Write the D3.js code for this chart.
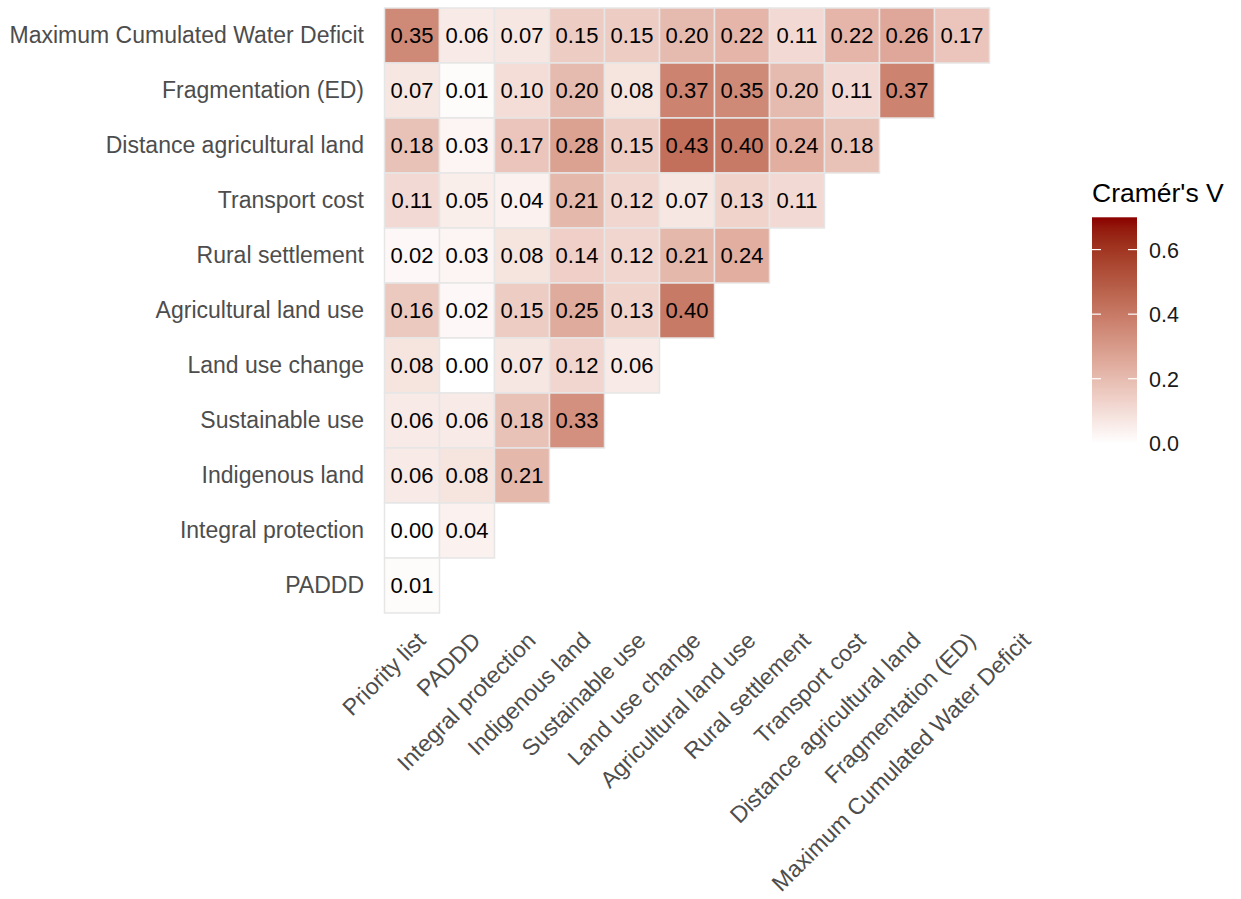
<!DOCTYPE html>
<html>
<head>
<meta charset="utf-8">
<script src="https://cdn.jsdelivr.net/npm/d3@7"></script>
<style>
  html, body { margin: 0; padding: 0; background: #fff; }
  svg { display: block; font-family: "Liberation Sans", Arial, sans-serif; }
</style>
</head>
<body>
<svg id="chart" width="1241" height="899"></svg>
<script>
// Column variables (x axis, left to right)
const xVars = [
  "Priority list", "PADDD", "Integral protection", "Indigenous land",
  "Sustainable use", "Land use change", "Agricultural land use",
  "Rural settlement", "Transport cost", "Distance agricultural land",
  "Fragmentation (ED)", "Maximum Cumulated Water Deficit"
];

// Row variables (y axis, top to bottom)
const yVars = [
  "Maximum Cumulated Water Deficit", "Fragmentation (ED)",
  "Distance agricultural land", "Transport cost", "Rural settlement",
  "Agricultural land use", "Land use change", "Sustainable use",
  "Indigenous land", "Integral protection", "PADDD"
];

// Cramér's V per row, starting from the first column
const vMCWD        = [0.35, 0.06, 0.07, 0.15, 0.15, 0.20, 0.22, 0.11, 0.22, 0.26, 0.17];
const vFragment    = [0.07, 0.01, 0.10, 0.20, 0.08, 0.37, 0.35, 0.20, 0.11, 0.37];
const vDistAgri    = [0.18, 0.03, 0.17, 0.28, 0.15, 0.43, 0.40, 0.24, 0.18];
const vTransport   = [0.11, 0.05, 0.04, 0.21, 0.12, 0.07, 0.13, 0.11];
const vRural       = [0.02, 0.03, 0.08, 0.14, 0.12, 0.21, 0.24];
const vAgriLandUse = [0.16, 0.02, 0.15, 0.25, 0.13, 0.40];
const vLandUseChg  = [0.08, 0.00, 0.07, 0.12, 0.06];
const vSustainable = [0.06, 0.06, 0.18, 0.33];
const vIndigenous  = [0.06, 0.08, 0.21];
const vIntegral    = [0.00, 0.04];
const vPADDD       = [0.01];

const rowValues = [vMCWD, vFragment, vDistAgri, vTransport, vRural,
  vAgriLandUse, vLandUseChg, vSustainable, vIndigenous, vIntegral, vPADDD];

const legendTicks = [0.0, 0.2, 0.4, 0.6];
const fillLimits = [0, 0.7];

// Long-format cells
const cells = [];
rowValues.forEach((vals, i) => {
  vals.forEach((v, j) => cells.push({ row: yVars[i], col: xVars[j], value: v }));
});

const svg = d3.select("#chart");

const panel = { left: 384.5, top: 8, cell: 55 };
const x = d3.scaleBand().domain(xVars)
  .range([panel.left, panel.left + panel.cell * xVars.length]).padding(0);
const y = d3.scaleBand().domain(yVars)
  .range([panel.top, panel.top + panel.cell * yVars.length]).padding(0);

const color = d3.scaleLinear().domain(fillLimits)
  .range(["#ffffff", "#8B0000"]).interpolate(d3.interpolateLab).clamp(true);

// Tiles
svg.append("g").selectAll("rect").data(cells).join("rect")
  .attr("x", d => x(d.col))
  .attr("y", d => y(d.row))
  .attr("width", x.bandwidth())
  .attr("height", y.bandwidth())
  .attr("fill", d => color(d.value))
  .attr("stroke", "#e6e6e6")
  .attr("stroke-width", 1.5);

// Value labels
svg.append("g").selectAll("text").data(cells).join("text")
  .attr("x", d => x(d.col) + x.bandwidth() / 2)
  .attr("y", d => y(d.row) + y.bandwidth() / 2)
  .attr("text-anchor", "middle")
  .attr("dominant-baseline", "central")
  .attr("font-size", 22)
  .attr("fill", "#000")
  .text(d => d3.format(".2f")(d.value));

// Y axis (labels only)
const yAxis = d3.axisLeft(y).tickSize(0).tickPadding(20.5);
const gy = svg.append("g").attr("transform", `translate(${panel.left},0)`).call(yAxis);
gy.select(".domain").remove();
gy.selectAll("text")
  .attr("font-size", 23)
  .attr("fill", "#4d4d4d")
  .attr("font-family", "'Liberation Sans', Arial, sans-serif");

// X axis (labels only, rotated 45°)
const xAxisY = panel.top + panel.cell * yVars.length;
const xAxis = d3.axisBottom(x).tickSize(0).tickPadding(0);
const gx = svg.append("g").attr("transform", `translate(0,${xAxisY})`).call(xAxis);
gx.select(".domain").remove();
gx.selectAll("text")
  .attr("font-size", 23)
  .attr("fill", "#4d4d4d")
  .attr("font-family", "'Liberation Sans', Arial, sans-serif")
  .attr("text-anchor", "end")
  .attr("dy", null)
  .attr("y", 0)
  .attr("transform", "translate(15,29) rotate(-45)");

// Colour bar legend
const legend = { x: 1092, top: 217.3, width: 45 };
const ly = d3.scaleLinear().domain(fillLimits).range([443.3, legend.top]);

const defs = svg.append("defs");
const grad = defs.append("linearGradient").attr("id", "vgrad")
  .attr("x1", 0).attr("y1", 1).attr("x2", 0).attr("y2", 0);
d3.range(0, 1.0001, 0.05).forEach(t => {
  grad.append("stop").attr("offset", t)
    .attr("stop-color", color(fillLimits[0] + t * (fillLimits[1] - fillLimits[0])));
});

const lg = svg.append("g");
lg.append("text")
  .attr("x", legend.x).attr("y", 202)
  .attr("font-size", 26.5).attr("fill", "#000")
  .text("Cramér's V");

lg.append("rect")
  .attr("x", legend.x).attr("y", ly(fillLimits[1]))
  .attr("width", legend.width).attr("height", ly(fillLimits[0]) - ly(fillLimits[1]))
  .attr("fill", "url(#vgrad)");

const tickLen = legend.width / 5;
lg.selectAll("line.tl").data(legendTicks).join("line")
  .attr("x1", legend.x).attr("x2", legend.x + tickLen)
  .attr("y1", d => ly(d)).attr("y2", d => ly(d))
  .attr("stroke", "#fff").attr("stroke-width", 1.2);
lg.selectAll("line.tr").data(legendTicks).join("line")
  .attr("x1", legend.x + legend.width - tickLen).attr("x2", legend.x + legend.width)
  .attr("y1", d => ly(d)).attr("y2", d => ly(d))
  .attr("stroke", "#fff").attr("stroke-width", 1.2);

lg.selectAll("text.lab").data(legendTicks).join("text")
  .attr("x", 1149).attr("y", d => ly(d) + 1)
  .attr("dominant-baseline", "central")
  .attr("font-size", 21.5).attr("fill", "#1a1a1a")
  .text(d => d3.format(".1f")(d));
</script>
</body>
</html>
